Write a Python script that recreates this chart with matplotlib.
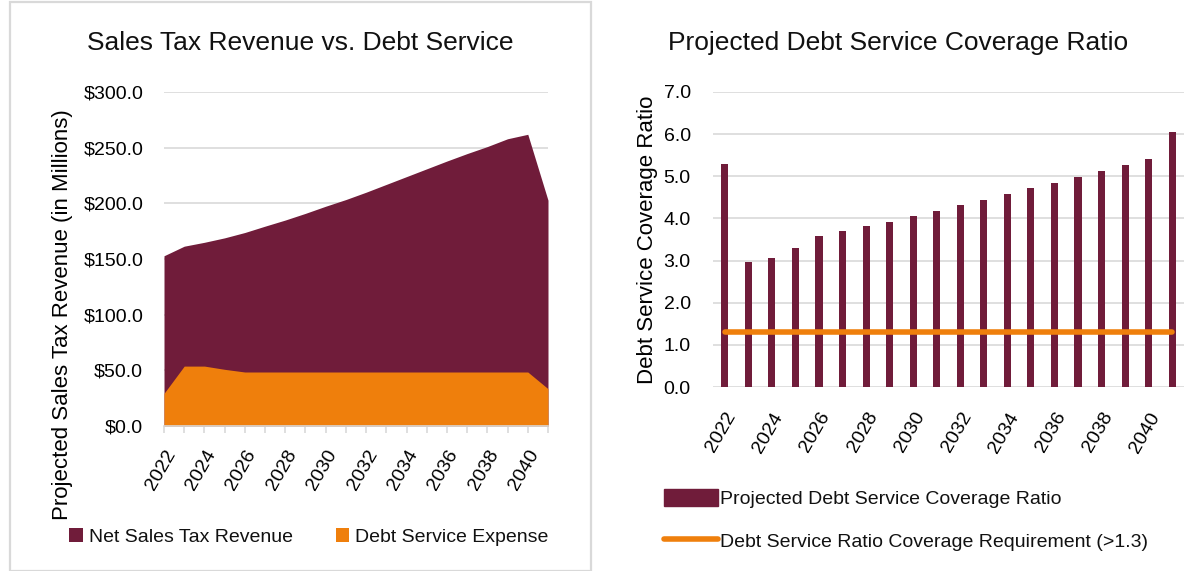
import matplotlib.pyplot as plt
from matplotlib.patches import Rectangle
from matplotlib.lines import Line2D
from matplotlib import font_manager

years = list(range(2022, 2042))
net_revenue = [152.9, 161.5, 165.0, 169.0, 173.8, 179.5, 185.0, 191.0, 197.4, 203.4,
               210.0, 217.0, 224.0, 231.0, 238.0, 244.7, 251.0, 258.0, 262.0, 202.8]
debt_expense = [29.3, 53.8, 53.8, 50.9, 48.5, 48.5, 48.5, 48.5, 48.5, 48.5,
                48.5, 48.5, 48.5, 48.5, 48.5, 48.5, 48.5, 48.5, 48.5, 33.5]
coverage = [5.28, 2.97, 3.05, 3.29, 3.58, 3.69, 3.81, 3.92, 4.05, 4.18,
            4.31, 4.44, 4.57, 4.72, 4.85, 4.98, 5.12, 5.26, 5.41, 6.04]
requirement = 1.3
year_labels = [str(y) if y % 2 == 0 else "" for y in years]

MAROON = "#701C3A"
ORANGE = "#EF7F0C"
GRID = "#D9D9D9"

names = {f.name for f in font_manager.fontManager.ttflist}
narrow = "Liberation Sans Narrow" if "Liberation Sans Narrow" in names else "Liberation Sans"
plt.rcParams["font.family"] = [narrow, "DejaVu Sans"]
plt.rcParams["text.color"] = "#111111"

fig = plt.figure(figsize=(11.95, 5.71), dpi=100)

# panel frame around the left chart
fig.patches.append(Rectangle((10 / 1195, 0), 581 / 1195, 569 / 571, transform=fig.transFigure,
                             fill=False, edgecolor=GRID, linewidth=1.6))

# ---- left: revenue vs debt service ----
ax1 = fig.add_axes([164 / 1195, 1 - 426 / 571, 384 / 1195, 334 / 571])
ax1.fill_between(years, net_revenue, color=MAROON, linewidth=0, label="Net Sales Tax Revenue")
ax1.fill_between(years, debt_expense, color=ORANGE, linewidth=0, label="Debt Service Expense")
ax1.set_xlim(2022, 2041)
ax1.set_ylim(0, 300)
ax1.set_yticks(range(0, 301, 50))
ax1.set_yticklabels([f"${v:.1f}" for v in range(0, 301, 50)], fontsize=14)
ax1.set_xticks(years)
ax1.set_xticklabels(year_labels, rotation=60, ha="right", rotation_mode="anchor", fontsize=14)
ax1.grid(axis="y", color=GRID, linewidth=1.2)
ax1.set_axisbelow(True)
for s in ["top", "right", "left"]:
    ax1.spines[s].set_visible(False)
ax1.spines["bottom"].set_color(GRID)
ax1.spines["bottom"].set_linewidth(1.2)
ax1.tick_params(axis="x", length=5, color=GRID, width=1.2, pad=10)
ax1.tick_params(axis="y", length=0, pad=15)
ax1.set_ylabel("Projected Sales Tax Revenue (in Millions)", fontsize=16)
ax1.yaxis.set_label_coords(-0.236, 0.332)
fig.text(300 / 1195, 1 - 43 / 571, "Sales Tax Revenue vs. Debt Service", fontsize=19,
         ha="center", va="center")
ax1.legend(loc="center", bbox_to_anchor=(309 / 1195, 1 - 537 / 571), bbox_transform=fig.transFigure,
           ncol=2, frameon=False, fontsize=14, handlelength=0.7, handleheight=0.75,
           handletextpad=0.3, columnspacing=2.2)

# ---- right: coverage ratio ----
ax2 = fig.add_axes([713 / 1195, 1 - 387 / 571, 471 / 1195, 295 / 571])
x = list(range(len(years)))
ax2.bar(x, coverage, width=0.3, color=MAROON, label="Projected Debt Service Coverage Ratio")
ax2.plot([x[0], x[-1]], [requirement, requirement], color=ORANGE, linewidth=4,
         solid_capstyle="round", label="Debt Service Ratio Coverage Requirement (>1.3)")
ax2.set_xlim(-0.5, len(years) - 0.5)
ax2.set_ylim(0, 7)
ax2.set_yticks(range(0, 8))
ax2.set_yticklabels([f"{v:.1f}" for v in range(0, 8)], fontsize=14)
ax2.set_xticks(x)
ax2.set_xticklabels(year_labels, rotation=60, ha="right", rotation_mode="anchor", fontsize=14)
ax2.grid(axis="y", color=GRID, linewidth=1.2)
ax2.set_axisbelow(True)
for s in ["top", "right", "left", "bottom"]:
    ax2.spines[s].set_visible(False)
ax2.tick_params(axis="both", length=0)
ax2.tick_params(axis="y", pad=16)
ax2.tick_params(axis="x", pad=16)
ax2.set_ylabel("Debt Service Coverage Ratio", fontsize=16, labelpad=4)
fig.text(898 / 1195, 1 - 43 / 571, "Projected Debt Service Coverage Ratio", fontsize=19,
         ha="center", va="center")
handles = [Rectangle((0, 0), 1, 1, color=MAROON),
           Line2D([0], [0], color=ORANGE, linewidth=4, solid_capstyle="round")]
ax2.legend(handles, ["Projected Debt Service Coverage Ratio",
                     "Debt Service Ratio Coverage Requirement (>1.3)"],
           loc="upper left", bbox_to_anchor=(646 / 1195, 1 - 471 / 571), bbox_transform=fig.transFigure,
           frameon=False, fontsize=14, handlelength=2.8, handleheight=1.0, handletextpad=0.1,
           labelspacing=1.2)

fig.savefig("out.png", dpi=100)
